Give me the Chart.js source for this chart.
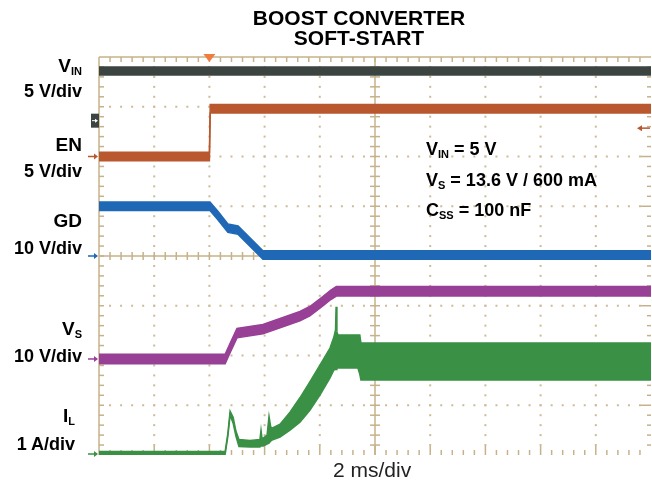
<!DOCTYPE html>
<html>
<head>
<meta charset="utf-8">
<script src="https://cdn.jsdelivr.net/npm/chart.js@4.4.1/dist/chart.umd.min.js"></script>
<style>
  body { margin: 0; background: #fff; }
  #wrap { position: relative; width: 652px; height: 484px; font-family: "Liberation Sans", Arial, sans-serif; color: #000; }
  #scope { position: absolute; left: 0; top: 0; }
  .t { position: absolute; white-space: nowrap; font-weight: bold; }
  .name { right: 570px; font-size: 19px; line-height: 19px; text-align: right; }
  .div { right: 570px; font-size: 18px; line-height: 18px; text-align: right; }
  .note { left: 426px; font-size: 18px; line-height: 18px; }
  .title { left: 209px; width: 300px; text-align: center; font-size: 21px; line-height: 21px; }
  sub { font-size: 11px; line-height: 0; vertical-align: -3px; }
  .time { left: 333px; top: 459px; font-size: 21px; line-height: 21px; font-weight: normal; color: #222; }
</style>
</head>
<body>
<div id="wrap">
  <canvas id="scope" width="652" height="484"></canvas>

  <div class="t title" style="top:7px">BOOST CONVERTER</div>
  <div class="t title" style="top:27px">SOFT-START</div>

  <div class="t name" style="top:56px">V<sub>IN</sub></div>
  <div class="t div" style="top:82px">5 V/div</div>
  <div class="t name" style="top:135px">EN</div>
  <div class="t div" style="top:162px">5 V/div</div>
  <div class="t name" style="top:211px">GD</div>
  <div class="t div" style="top:239px">10 V/div</div>
  <div class="t name" style="top:319px">V<sub>S</sub></div>
  <div class="t div" style="top:347px">10 V/div</div>
  <div class="t name" style="top:406px; right:577px">I<sub>L</sub></div>
  <div class="t div" style="top:435px; right:577px">1 A/div</div>

  <div class="t note" style="top:140px">V<sub>IN</sub> = 5 V</div>
  <div class="t note" style="top:171px">V<sub>S</sub> = 13.6 V / 600 mA</div>
  <div class="t note" style="top:201px">C<sub>SS</sub> = 100 nF</div>

  <div class="t time">2 ms/div</div>
</div>

<script>
"use strict";

/* tijdbasis: 2 ms/div, 10 div -> 0..20 ms */
const timeMin = 0;
const timeMax = 20;
const msPerDiv = 2;
const triggerTime = 4.0;

/* VIN (V), ruis top-top */
const vinTime = [0, 20];
const vinVolts = [5.0, 5.0];
const vinNoise = 0.8;

/* EN (V) */
const enTime = [0, 4.0, 4.03, 20];
const enVolts = [0, 0, 4.8, 4.8];
const enNoise = 0.85;
const enTriggerLevel = 2.85;

/* GD (V) */
const gdTime = [0, 4.02, 4.3, 4.67, 5.04, 5.94, 20];
const gdVolts = [10.0, 10.0, 8.2, 5.6, 5.2, 0.2, 0.2];
const gdNoise = 1.7;

/* VS (V) */
const vsTime = [0, 4.57, 4.75, 5.0, 5.94, 6.56, 7.28, 7.64, 8.11, 8.4, 8.6, 20];
const vsVolts = [0, 0, 2.2, 5.2, 6.0, 7.2, 8.6, 9.6, 11.6, 12.9, 13.6, 13.6];
const vsNoise = 1.9;

/* IL (A): bovenkant en onderkant van de rimpel */
const ilTime = [0, 4.57, 4.67, 4.75, 4.86, 4.96, 5.07, 5.47, 5.83, 5.87, 5.91, 5.95, 6.09, 6.16, 6.22, 6.27,
                6.56, 6.92, 7.28, 7.64, 8.01, 8.37, 8.51, 8.57, 8.59, 8.62, 8.66, 9.38, 9.45, 9.49, 20];
const ilHigh = [0.05, 0.05, 0.42, 0.86, 0.74, 0.46, 0.29, 0.27, 0.29, 0.48, 0.30, 0.32, 0.38, 0.76, 0.55, 0.52,
                0.60, 0.84, 1.13, 1.45, 1.79, 2.13, 2.35, 2.50, 2.96, 2.45, 2.39, 2.39, 2.39, 2.23, 2.23];
const ilLow  = [-0.01, -0.01, 0.36, 0.78, 0.62, 0.36, 0.15, 0.14, 0.14, 0.16, 0.16, 0.16, 0.20, 0.22, 0.26, 0.28,
                0.34, 0.48, 0.64, 0.88, 1.19, 1.53, 1.69, 1.70, 1.70, 1.72, 1.73, 1.73, 1.60, 1.49, 1.49];

/* kanaalinstellingen: nulniveau in div (vanaf onderrand) en schaal per div */
const channels = {
    vin: { offset: 6.72, perDiv: 5, color: '#3c4442' },
    en:  { offset: 6.0,  perDiv: 5, color: '#b9572f' },
    gd:  { offset: 4.0,  perDiv: 10, color: '#1f68b5' },
    vs:  { offset: 1.93, perDiv: 10, color: '#983f96' },
    il:  { offset: 0.02, perDiv: 1, color: '#3a9045' }
};

const tan = '#c6b28a';

/* meetwaarden omzetten naar schermdivisies */
function toDivs(times, values, ch) {
    return times.map((t, i) => ({ x: t, y: ch.offset + values[i] / ch.perDiv }));
}

/* spoor als band: bovenrand en onderrand, ertussen gevuld */
function band(label, times, upper, lower, ch) {
    const edge = {
        borderColor: ch.color,
        borderWidth: 1.5,
        pointRadius: 0,
        tension: 0
    };
    return [
        Object.assign({ label: label + ' max', data: toDivs(times, upper, ch), fill: false }, edge),
        Object.assign({ label: label + ' min', data: toDivs(times, lower, ch), fill: '-1', backgroundColor: ch.color }, edge)
    ];
}

/* band rond een gemiddelde met de ruis top-top */
function noisy(label, times, values, noise, ch) {
    return band(label, times,
        values.map(v => v + noise / 2),
        values.map(v => v - noise / 2), ch);
}

/* graticule van de scoop: stippelraster, middenassen met streepjes, randen */
const graticule = {
    id: 'graticule',
    beforeDatasetsDraw(chart) {
        const { ctx, chartArea: a, scales: { x, y } } = chart;
        const px = t => x.getPixelForValue(t);
        const py = d => y.getPixelForValue(d);
        ctx.save();

        /* stippen om de 0.2 div */
        ctx.fillStyle = '#cdbb96';
        for (let i = 1; i < 10; i++) {
            if (i === 5) continue;
            for (let k = 1; k < 40; k++) ctx.fillRect(px(i * msPerDiv) - 1, py(k * 0.2) - 1, 2, 2);
        }
        for (let j = 1; j < 8; j++) {
            if (j === 4) continue;
            for (let k = 1; k < 50; k++) ctx.fillRect(px(k * 0.4) - 1, py(j) - 1, 2, 2);
        }

        ctx.strokeStyle = tan;
        ctx.lineWidth = 1.5;
        const line = (x1, y1, x2, y2) => {
            ctx.beginPath();
            ctx.moveTo(x1, y1);
            ctx.lineTo(x2, y2);
            ctx.stroke();
        };

        /* middenassen */
        line(a.left, py(4), a.right, py(4));
        line(px(10), a.top, px(10), a.bottom);
        for (let k = 1; k < 50; k++) line(px(k * 0.4), py(4) - 4, px(k * 0.4), py(4) + 4);
        for (let k = 1; k < 40; k++) line(px(10) - 5, py(k * 0.2), px(10) + 5, py(k * 0.2));

        /* boven- en linkerrand, streepjes onder en rechts */
        line(a.left, a.top, a.right, a.top);
        line(a.left, a.top, a.left, a.bottom);
        for (let k = 1; k < 50; k++) {
            line(px(k * 0.4), a.top, px(k * 0.4), a.top + 5);
            const major = k % 5 === 0;
            line(px(k * 0.4), a.bottom, px(k * 0.4), a.bottom - (major ? 9 : 5));
        }
        for (let k = 1; k < 40; k++) {
            const major = k % 5 === 0;
            line(a.left, py(k * 0.2), a.left + 5, py(k * 0.2));
            line(a.right, py(k * 0.2), a.right - (major ? 10 : 4), py(k * 0.2));
        }
        ctx.restore();
    },
    afterDraw(chart) {
        const { ctx, chartArea: a, scales: { x, y } } = chart;
        ctx.save();

        /* nulniveau-pijltjes links */
        const arrow = (yy, color) => {
            ctx.strokeStyle = color;
            ctx.fillStyle = color;
            ctx.lineWidth = 1.5;
            ctx.beginPath();
            ctx.moveTo(a.left - 11, yy);
            ctx.lineTo(a.left - 4, yy);
            ctx.stroke();
            ctx.beginPath();
            ctx.moveTo(a.left - 5, yy - 3);
            ctx.lineTo(a.left - 1, yy);
            ctx.lineTo(a.left - 5, yy + 3);
            ctx.fill();
        };
        const yVin = y.getPixelForValue(channels.vin.offset);
        ctx.fillStyle = channels.vin.color;
        ctx.fillRect(a.left - 8, yVin - 7, 8, 14);
        ctx.strokeStyle = '#fff';
        ctx.fillStyle = '#fff';
        ctx.lineWidth = 1;
        ctx.beginPath();
        ctx.moveTo(a.left - 7, yVin);
        ctx.lineTo(a.left - 3, yVin);
        ctx.stroke();
        ctx.beginPath();
        ctx.moveTo(a.left - 4, yVin - 2);
        ctx.lineTo(a.left - 1, yVin);
        ctx.lineTo(a.left - 4, yVin + 2);
        ctx.fill();

        arrow(y.getPixelForValue(channels.en.offset), channels.en.color);
        arrow(y.getPixelForValue(channels.gd.offset), channels.gd.color);
        arrow(y.getPixelForValue(channels.vs.offset), channels.vs.color);
        arrow(y.getPixelForValue(channels.il.offset), channels.il.color);

        /* triggerpunt boven */
        const xt = x.getPixelForValue(triggerTime);
        ctx.fillStyle = '#f07d3e';
        ctx.beginPath();
        ctx.moveTo(xt - 6, a.top - 3);
        ctx.lineTo(xt + 6, a.top - 3);
        ctx.lineTo(xt, a.top + 5);
        ctx.fill();

        /* triggerniveau rechts */
        const yl = y.getPixelForValue(channels.en.offset + enTriggerLevel / channels.en.perDiv);
        ctx.strokeStyle = channels.en.color;
        ctx.fillStyle = channels.en.color;
        ctx.lineWidth = 1.5;
        ctx.beginPath();
        ctx.moveTo(a.right - 1, yl);
        ctx.lineTo(a.right - 10, yl);
        ctx.stroke();
        ctx.beginPath();
        ctx.moveTo(a.right - 9, yl - 3);
        ctx.lineTo(a.right - 14, yl);
        ctx.lineTo(a.right - 9, yl + 3);
        ctx.fill();
        ctx.restore();
    }
};

const ctx = document.getElementById('scope');

new Chart(ctx, {
    type: 'line',
    data: {
        datasets: [
            ...noisy('VIN', vinTime, vinVolts, vinNoise, channels.vin),
            ...noisy('EN', enTime, enVolts, enNoise, channels.en),
            ...noisy('GD', gdTime, gdVolts, gdNoise, channels.gd),
            ...noisy('VS', vsTime, vsVolts, vsNoise, channels.vs),
            ...band('IL', ilTime, ilHigh, ilLow, channels.il)
        ]
    },
    options: {
        responsive: false,
        animation: false,
        devicePixelRatio: 1,
        layout: { padding: { left: 99, right: 1, top: 57, bottom: 29 } },
        plugins: {
            legend: { display: false },
            tooltip: { enabled: false },
            title: { display: false }
        },
        scales: {
            x: { type: 'linear', min: timeMin, max: timeMax, display: false },
            y: { type: 'linear', min: 0, max: 8, display: false }
        }
    },
    plugins: [graticule]
});
</script>
</body>
</html>
